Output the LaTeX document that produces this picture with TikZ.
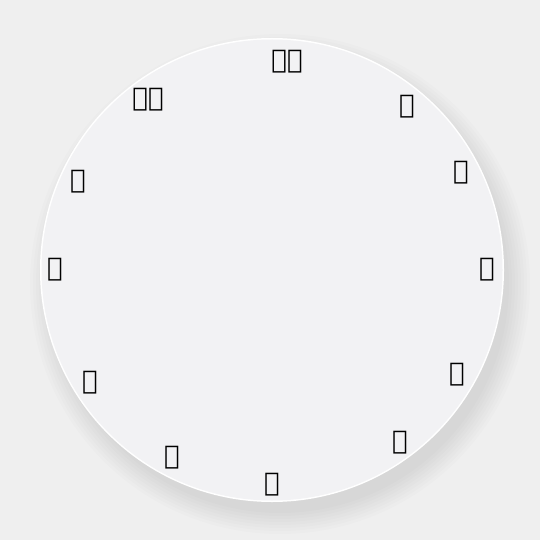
\documentclass[tikz,border=0pt]{standalone}
\usepackage{fontspec}
\newfontfamily\ethfont{DejaVu Sans}
\definecolor{bg}{HTML}{EFEFEF}
\definecolor{face}{HTML}{F2F2F4}
\begin{document}
\begin{tikzpicture}[x=1bp,y=-1bp,
  num/.style={font=\ethfont\fontsize{26}{26}\selectfont, text=black, inner sep=0pt}]
\fill[bg] (0,0) rectangle (540,540);
\useasboundingbox (0,0) rectangle (540,540);
\foreach \r in {250,247,...,229}
  \fill[black,opacity=0.012] (280,284) circle (\r);
\fill[white] (272,270) circle (232);
\fill[face] (272,270) circle (230.5);
\node[num] (n12) at (287,62) {፲፪};
\node[num] (n11) at (148,100) {፲፩};
\node[num] (n10) at (78,182) {፲};
\node[num] (n9) at (55,270) {፱};
\node[num] (n8) at (90,383) {፰};
\node[num] (n7) at (172,458) {፯};
\node[num] (n6) at (272,485) {፮};
\node[num] (n5) at (400,443) {፭};
\node[num] (n4) at (457,375) {፬};
\node[num] (n3) at (487,270) {፫};
\node[num] (n2) at (461,173) {፪};
\node[num] (n1) at (407,107) {፩};
\end{tikzpicture}
\end{document}
